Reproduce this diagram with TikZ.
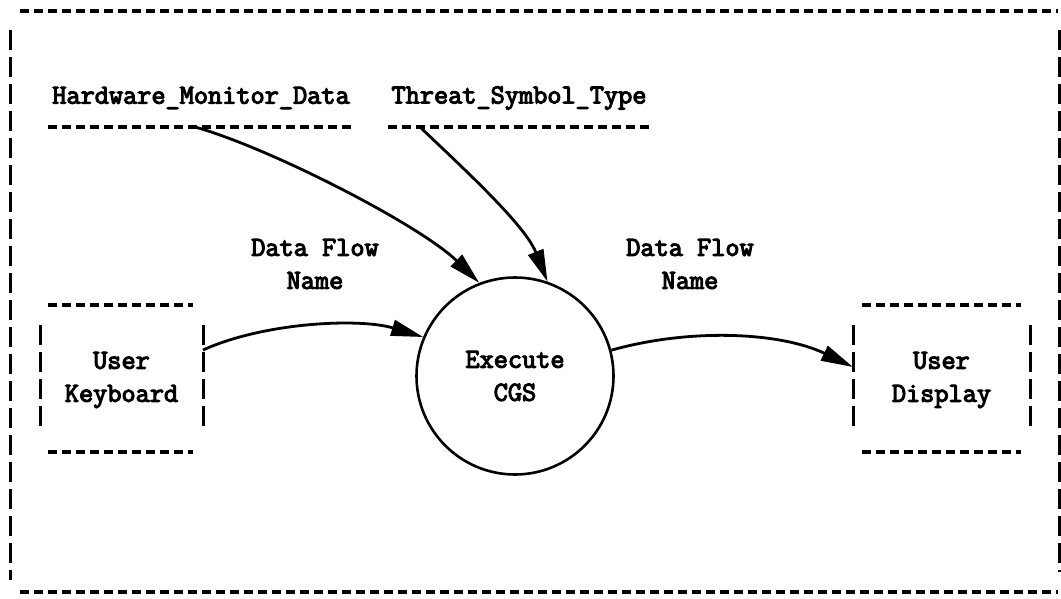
\documentclass[tikz,border=0pt]{standalone}
\usepackage{fontspec}
\newfontfamily\tw{Latin Modern Mono}[FakeBold=4]
\usetikzlibrary{arrows.meta}
\tikzset{
  hdash/.style={line width=3.5pt, dash pattern=on 9pt off 5pt},
  vdash/.style={line width=3pt, dash pattern=on 20pt off 7pt},
  flow/.style={line width=2.8pt, -{Triangle[length=32pt,width=16pt]}},
  lbl/.style={font=\tw\fontsize{27.5}{33}\selectfont, align=center, inner sep=0pt},
}
\begin{document}
\begin{tikzpicture}[x=1pt,y=-1pt]
\useasboundingbox (0,0) rectangle (1061,599);
% outer frame
\draw[hdash] (20,11) -- (1058,11);
\draw[hdash] (20,592) -- (1058,592);
\draw[vdash] (10,30) -- (10,580);
\draw[vdash] (1059,30) -- (1059,572);

% data store labels
\node[lbl] (hmd) at (201,98) {Hardware\_Monitor\_Data};
\node[lbl] (tst) at (519,98) {Threat\_Symbol\_Type};
\draw[hdash] (48,127) -- (353,127);
\draw[hdash] (388,127) -- (650,127);
\coordinate (hmdline) at (195,127);
\coordinate (tstline) at (420,127);

% flow labels
\node[lbl] (fl1) at (315,264) {Data Flow\\Name};
\node[lbl] (fl2) at (690,264) {Data Flow\\Name};

% user keyboard
\node[lbl, minimum width=163pt, minimum height=147pt] (kb) at (121.5,380) {User\\Keyboard};
\draw[hdash] (48,305) -- (193,305);
\draw[hdash] (48,452) -- (193,452);
\draw[vdash] (40,325) -- (40,433);
\draw[vdash] (203,325) -- (203,433);

% user display
\node[lbl, minimum width=177pt, minimum height=147pt] (ud) at (941.5,380) {User\\Display};
\draw[hdash] (862,305) -- (1021,305);
\draw[hdash] (862,452) -- (1021,452);
\draw[vdash] (853,325) -- (853,433);
\draw[vdash] (1030,325) -- (1030,433);

% process
\node[circle, draw, line width=2.6pt, minimum size=197pt, lbl] (cgs) at (515,376) {Execute\\CGS};

% connectors
\coordinate (kbout) at (203,350);
\coordinate (udin) at (853,367);
\draw[flow] (kbout) .. controls (265,322) and (360,318) .. (cgs.157);
\draw[flow] (cgs.15) .. controls (690,328) and (780,332) .. (udin);
\draw[flow] (hmdline) .. controls (270,148) and (420,225) .. (cgs.111);
\draw[flow] (tstline) .. controls (465,170) and (525,225) .. (cgs.71);
\end{tikzpicture}
\end{document}
